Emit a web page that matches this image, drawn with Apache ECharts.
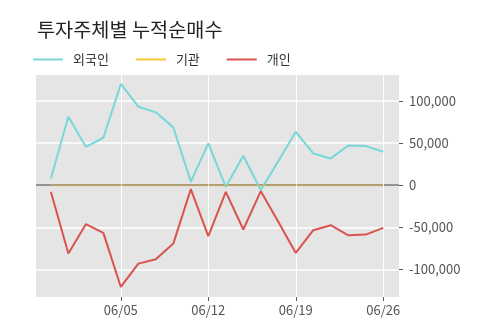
<!DOCTYPE html>
<html>
<head>
<meta charset="utf-8">
<script src="https://cdn.jsdelivr.net/npm/echarts@6/dist/echarts.min.js"></script>
<style>
  html, body { margin: 0; padding: 0; background: #fff; }
  #chart { width: 500px; height: 323px; }
</style>
</head>
<body>
<div id="chart"></div>
<script>
// trading days (5 per week)
var dates = [
  "05/30", "05/31", "06/01", "06/02",
  "06/05", "06/06", "06/07", "06/08", "06/09",
  "06/12", "06/13", "06/14", "06/15", "06/16",
  "06/19", "06/20", "06/21", "06/22", "06/23",
  "06/26"
];
var foreign = [7900, 81100, 45500, 56200, 120000, 93000, 86300, 68500, 4000, 49500,
  -2000, 34800, -6000, 28500, 63300, 37600, 31700, 47100, 46300, 39600];
var institution = [0, 0, 0, 0, 0, 0, 0, 0, 0, 0, 0, 0, 0, 0, 0, 0, 0, 0, 0, 0];
var individual = [-7900, -81100, -46300, -56600, -120700, -93000, -87900, -69300, -4700, -60500,
  -7900, -52600, -7100, -43500, -80400, -53400, -47500, -59400, -58600, -50700];
var xTicks = [4, 9, 14, 19];
var yTicks = [-100000, -50000, 0, 50000, 100000];

var font = "'Noto Sans CJK KR', 'Noto Sans', sans-serif";
var chart = echarts.init(document.getElementById("chart"));

function pairs(arr) {
  return arr.map(function (v, i) { return [i, v]; });
}

chart.setOption({
  animation: false,
  textStyle: { fontFamily: font },
  title: {
    text: "투자주체별 누적순매수",
    left: 32,
    top: 15,
    textStyle: { fontFamily: font, fontSize: 19.7, fontWeight: "normal", color: "#222" }
  },
  legend: {
    left: 28,
    top: 48,
    itemWidth: 30,
    itemHeight: 2,
    itemGap: 27,
    icon: "rect",
    textStyle: { fontFamily: font, fontSize: 13, color: "#333", padding: [0, 0, 0, 5] },
    data: ["외국인", "기관", "개인"]
  },
  grid: {
    left: 36,
    right: 101,
    top: 75,
    bottom: 26,
    show: true,
    backgroundColor: "#e5e5e5",
    borderWidth: 0
  },
  xAxis: {
    type: "value",
    min: -0.85,
    max: 19.9,
    axisLine: { show: false, onZero: false },
    axisTick: { show: true, length: 4, lineStyle: { color: "#555" }, customValues: xTicks },
    axisLabel: {
      customValues: xTicks,
      margin: 7,
      fontSize: 13,
      color: "#555",
      formatter: function (v) { return dates[Math.round(v)]; }
    },
    splitLine: { show: true, lineStyle: { color: "#fff", width: 1 } }
  },
  yAxis: {
    type: "value",
    position: "right",
    min: -132600,
    max: 130600,
    axisLine: { show: false, onZero: false },
    axisTick: { show: true, length: 4, lineStyle: { color: "#555" }, customValues: yTicks },
    axisLabel: {
      customValues: yTicks,
      margin: 10,
      fontSize: 13,
      color: "#555",
      formatter: function (v) { return echarts.format.addCommas(v); }
    },
    splitLine: {
      show: true,
      lineStyle: { color: ["#fff", "#fff", "#777", "#fff", "#fff"], width: 1.5 }
    }
  },
  series: [
    {
      name: "외국인",
      type: "line",
      data: pairs(foreign),
      symbol: "none",
      lineStyle: { color: "#78d8d8", width: 2 },
      itemStyle: { color: "#78d8d8" }
    },
    {
      name: "기관",
      type: "line",
      data: pairs(institution),
      symbol: "none",
      lineStyle: { color: "#d9b445", width: 2, opacity: 0.5 },
      itemStyle: { color: "#f5c53a" }
    },
    {
      name: "개인",
      type: "line",
      data: pairs(individual),
      symbol: "none",
      lineStyle: { color: "#d9534f", width: 2 },
      itemStyle: { color: "#d9534f" }
    }
  ]
});
</script>
</body>
</html>
